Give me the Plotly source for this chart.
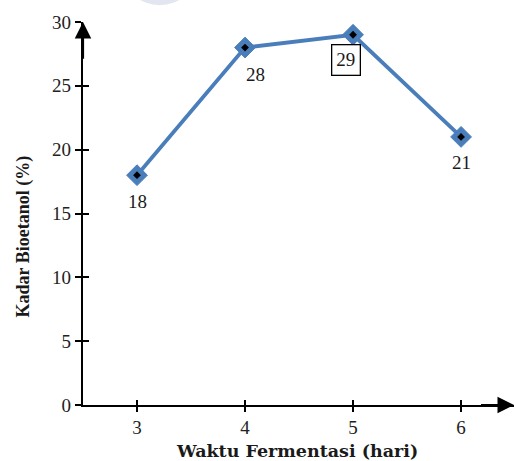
import plotly.graph_objects as go

# Bioethanol content per fermentation day
days = [3, 4, 5, 6]
kadar = [18, 28, 29, 21]
x_ticks = [3, 4, 5, 6]
y_ticks = [0, 5, 10, 15, 20, 25, 30]

# label offsets (pixels) relative to each point, and which label is boxed
label_dx = [0, 10, -7, 0]
label_dy = [-26, -27, -25, -26]
label_box = [False, False, True, False]

FONT = "Liberation Serif"
LINE = "#4a7ebb"

fig = go.Figure()

fig.add_trace(go.Scatter(
    x=days, y=kadar, mode="lines+markers",
    line=dict(color=LINE, width=3.8),
    marker=dict(symbol="diamond", size=16, color=LINE,
                line=dict(color=LINE, width=1)),
    hoverinfo="skip", showlegend=False,
))
# small black dot inside each marker
fig.add_trace(go.Scatter(
    x=days, y=kadar, mode="markers",
    marker=dict(symbol="diamond", size=6, color="black"),
    hoverinfo="skip", showlegend=False,
))

annotations = []
for d, k, dx, dy, boxed in zip(days, kadar, label_dx, label_dy, label_box):
    annotations.append(dict(
        x=d, y=k, xref="x", yref="y", text=str(k), showarrow=False,
        xshift=dx, yshift=dy,
        font=dict(family=FONT, size=19, color="#1a1a1a"),
        bordercolor="black" if boxed else "rgba(0,0,0,0)",
        borderwidth=1.3 if boxed else 0, borderpad=4,
        bgcolor="white" if boxed else "rgba(0,0,0,0)",
    ))

# axis arrowheads
annotations.append(dict(
    x=0, y=1.0, xref="x domain", yref="y domain", ax=0, ay=0.9,
    axref="x domain", ayref="y domain", showarrow=True,
    arrowhead=2, arrowsize=1.5, arrowwidth=2.2, arrowcolor="black", text="",
))
annotations.append(dict(
    x=1.0, y=0, xref="x domain", yref="y domain", ax=0.92, ay=0,
    axref="x domain", ayref="y domain", showarrow=True,
    arrowhead=2, arrowsize=1.5, arrowwidth=2.2, arrowcolor="black", text="",
))

# axis titles
annotations.append(dict(
    x=-0.137, y=0.44, xref="paper", yref="paper", text="<b>Kadar Bioetanol (%)</b>",
    textangle=-90, showarrow=False, xanchor="center", yanchor="middle",
    font=dict(family=FONT, size=18, color="#1a1a1a"),
))
annotations.append(dict(
    x=0.497, y=-0.12, xref="paper", yref="paper", text="<b>Waktu Fermentasi (hari)</b>",
    showarrow=False, xanchor="center", yanchor="middle",
    font=dict(family="DejaVu Serif", size=17.5, color="#1a1a1a"),
))

fig.update_layout(
    width=514, height=461,
    margin=dict(l=83, r=0, t=22, b=56),
    paper_bgcolor="white", plot_bgcolor="white",
    annotations=annotations,
    xaxis=dict(
        range=[2.5, 6.49], tickvals=x_ticks, ticktext=[str(v) for v in x_ticks],
        showgrid=False, zeroline=False, showline=True, linecolor="black", linewidth=2.2,
        ticks="outside", ticklen=5, tickwidth=2, tickcolor="black",
        ticklabelstandoff=-1,
        tickfont=dict(family=FONT, size=19, color="#222"),
        fixedrange=True,
    ),
    xaxis2=dict(
        range=[2.5, 6.49], tickvals=x_ticks, overlaying="x", side="bottom",
        showgrid=False, zeroline=False, showline=False, showticklabels=False,
        ticks="inside", ticklen=5, tickwidth=2, tickcolor="black", anchor="y",
    ),
    yaxis=dict(
        range=[0, 30], tickvals=y_ticks, ticktext=[str(v) for v in y_ticks],
        showgrid=False, zeroline=False, showline=True, linecolor="black", linewidth=2.2,
        ticks="outside", ticklen=6, tickwidth=2, tickcolor="black",
        ticklabelstandoff=0,
        tickfont=dict(family=FONT, size=19, color="#222"),
        fixedrange=True,
    ),
    yaxis2=dict(
        range=[0, 30], tickvals=y_ticks, overlaying="y", side="left",
        showgrid=False, zeroline=False, showline=False, showticklabels=False,
        ticks="inside", ticklen=6, tickwidth=2, tickcolor="black", anchor="x",
    ),
)

# invisible trace to activate the secondary tick axes
fig.add_trace(go.Scatter(x=[days[0]], y=[kadar[0]], xaxis="x2", yaxis="y2",
                         mode="markers", marker=dict(opacity=0),
                         hoverinfo="skip", showlegend=False))

# faint watermark edge along the top
fig.add_shape(type="circle", xref="paper", yref="paper",
              x0=0.097, x1=0.259, y0=1.044, y1=1.2,
              fillcolor="#e3e6f0", line=dict(width=0), layer="below")

fig.write_html("out.html")
